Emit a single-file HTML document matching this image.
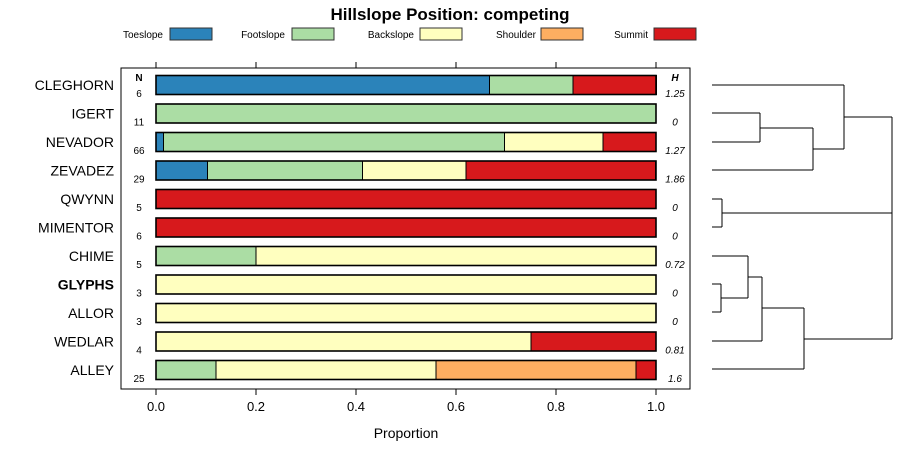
<!DOCTYPE html>
<html><head><meta charset="utf-8"><style>
body{margin:0;background:#fff;}
svg{display:block;font-family:"Liberation Sans",sans-serif;}
</style></head><body>
<svg id="c" width="900" height="460">
<text x="450" y="20" text-anchor="middle" font-size="17" font-weight="bold">Hillslope Position: competing</text>
<g id="legend"></g>
<rect x="121" y="68" width="569" height="321" fill="none" stroke="#000"/>
<g id="bars"></g><g id="axes"></g><g id="dend"></g>
<text x="406" y="438" text-anchor="middle" font-size="14">Proportion</text>
</svg>
<script>
const categories=["Toeslope","Footslope","Backslope","Shoulder","Summit"];
const colors=["#2b83ba","#abdda4","#ffffbf","#fdae61","#d7191c"];
const sites=["CLEGHORN","IGERT","NEVADOR","ZEVADEZ","QWYNN","MIMENTOR","CHIME","GLYPHS","ALLOR","WEDLAR","ALLEY"];
const nVals=[6,11,66,29,5,6,5,3,3,4,25];
const hVals=["1.25","0","1.27","1.86","0","0","0.72","0","0","0.81","1.6"];
const toeslope=[0.667,0,0.015,0.103,0,0,0,0,0,0,0];
const footslope=[0.167,1,0.682,0.31,0,0,0.2,0,0,0,0.12];
const backslope=[0,0,0.197,0.207,0,0,0.8,1,1,0.75,0.44];
const shoulder=[0,0,0,0,0,0,0,0,0,0,0.4];
const summit=[0.167,0,0.106,0.379,1,1,0,0,0,0.25,0.04];
const ticks=[0,0.2,0.4,0.6,0.8,1.0];
const tickLabels=["0.0","0.2","0.4","0.6","0.8","1.0"];
const series=[toeslope,footslope,backslope,shoulder,summit];
const NS="http://www.w3.org/2000/svg";
const X=v=>156+v*500, Y=i=>85+i*28.5;
function mk(t,a,p){const e=document.createElementNS(NS,t);for(const k in a)e.setAttribute(k,a[k]);(p||document.getElementById('c')).appendChild(e);return e;}
const lg=document.getElementById('legend');
const lgx=[[163,170],[285,292],[414,420],[536,541],[648,654]];
categories.forEach((c,i)=>{
 const t=mk('text',{x:lgx[i][0],y:38,'text-anchor':'end','font-size':10},lg);t.textContent=c;
 
 
 const r=mk('rect',{x:lgx[i][1],y:28,width:42,height:12,fill:colors[i],stroke:'#333'},lg);
 
 
});
const bars=document.getElementById('bars');
sites.forEach((s,i)=>{
 const y=Y(i);let cum=0;
 series.forEach((ser,k)=>{const v=ser[i];if(v>0){
  const r=mk('rect',{x:X(cum),y:y-9.5,width:v*500,height:19,fill:colors[k],stroke:'#000','stroke-width':1},bars);
  
  
  cum+=v;}});
 const o=mk('rect',{x:X(0),y:y-9.5,width:500,height:19,fill:'none',stroke:'#000','stroke-width':1.6},bars);
 
 
 const l=mk('text',{x:114,y:y+5,'text-anchor':'end','font-size':14,'font-weight':s==='GLYPHS'?'bold':'normal'},bars);l.textContent=s;
 
 
 const n=mk('text',{x:139,y:y+12,'text-anchor':'middle','font-size':10},bars);n.textContent=nVals[i];
 
 
 const h=mk('text',{x:675,y:y+12,'text-anchor':'middle','font-size':10,'font-style':'italic'},bars);h.textContent=hVals[i];
 
 
});
const nh=mk('text',{x:139,y:81,'text-anchor':'middle','font-size':10,'font-weight':'bold'},bars);nh.textContent='N';


const hh=mk('text',{x:675,y:81,'text-anchor':'middle','font-size':10,'font-weight':'bold','font-style':'italic'},bars);hh.textContent='H';


const ax=document.getElementById('axes');
ticks.forEach((t,i)=>{
 mk('line',{x1:X(t),x2:X(t),y1:62,y2:68,stroke:'#000'},ax);
 mk('line',{x1:X(t),x2:X(t),y1:389,y2:395,stroke:'#000'},ax);
 const tl=mk('text',{x:X(t),y:411,'text-anchor':'middle','font-size':13},ax);tl.textContent=tickLabels[i];
 
 
});
const d=document.getElementById('dend');
const segs=[[712,85,844,85],[712,113,760,113],[712,142,760,142],[760,113,760,142],[760,128,813,128],[712,170,813,170],[813,128,813,170],[813,149,844,149],[844,85,844,149],[844,117,892,117],
[712,199,722,199],[712,227,722,227],[722,199,722,227],[722,213,892,213],
[712,256,748,256],[712,284,721,284],[712,312,721,312],[721,284,721,312],[721,298,748,298],[748,256,748,298],[748,277,762,277],[712,341,762,341],[762,277,762,341],[762,308,804,308],[712,369,804,369],[804,308,804,369],[804,339,892,339],[892,117,892,339]];
segs.forEach(s=>mk('line',{x1:s[0],y1:s[1],x2:s[2],y2:s[3],stroke:'#000'},d));
</script>
</body></html>
